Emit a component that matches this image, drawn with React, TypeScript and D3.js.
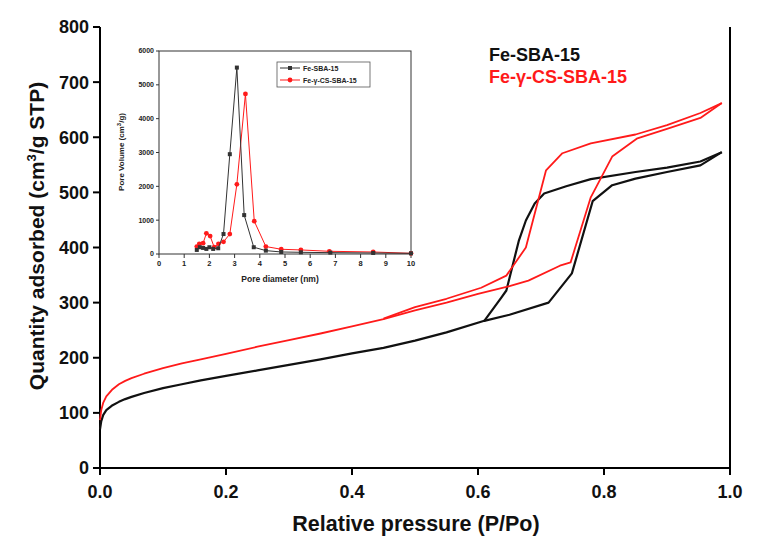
import React from "react";
import * as d3 from "d3";

// Main isotherms: [P/Po, quantity adsorbed]
const blackAdsP = [0, 0.002, 0.005, 0.01, 0.02, 0.03, 0.04, 0.05, 0.07, 0.1, 0.13, 0.16, 0.2, 0.25, 0.3, 0.35, 0.4, 0.45, 0.5, 0.55, 0.61, 0.65, 0.712, 0.749, 0.782, 0.813, 0.85, 0.9, 0.953, 0.987];
const blackAdsV = [70, 85, 96, 105, 114, 120, 125, 129, 136, 145, 152, 159, 167, 177, 187, 197, 208, 218, 231, 246, 267, 278, 300, 353, 484, 513, 525, 537, 549, 573];
const blackDesP = [0.987, 0.953, 0.9, 0.85, 0.779, 0.74, 0.705, 0.69, 0.676, 0.665, 0.645, 0.637, 0.61];
const blackDesV = [573, 556, 545, 537, 524, 511, 498, 480, 449, 413, 322, 309, 267];

const redAdsP = [0, 0.002, 0.005, 0.01, 0.02, 0.03, 0.04, 0.05, 0.07, 0.1, 0.13, 0.16, 0.2, 0.25, 0.3, 0.35, 0.4, 0.45, 0.5, 0.55, 0.6, 0.65, 0.68, 0.73, 0.747, 0.779, 0.813, 0.853, 0.9, 0.953, 0.987];
const redAdsV = [87, 105, 118, 130, 143, 152, 158, 163, 171, 181, 190, 197, 207, 220, 232, 244, 257, 270, 286, 300, 316, 330, 340, 367, 373, 491, 565, 598, 615, 635, 662];
const redDesP = [0.987, 0.953, 0.9, 0.85, 0.779, 0.734, 0.708, 0.676, 0.645, 0.605, 0.55, 0.5, 0.45];
const redDesV = [662, 644, 622, 605, 589, 571, 540, 400, 349, 327, 307, 292, 271];

const xTicks = [0, 0.2, 0.4, 0.6, 0.8, 1.0];
const yTicks = [0, 100, 200, 300, 400, 500, 600, 700, 800];

// Inset pore-size distribution
const insetBlackX = [1.5, 1.62, 1.75, 1.88, 2.0, 2.15, 2.35, 2.56, 2.81, 3.09, 3.38, 3.76, 4.24, 4.85, 5.63, 6.8, 8.5, 10];
const insetBlackY = [120, 200, 180, 150, 200, 150, 170, 590, 2950, 5510, 1150, 200, 100, 60, 50, 40, 30, 20];
const insetRedX = [1.5, 1.6, 1.75, 1.88, 2.03, 2.19, 2.36, 2.56, 2.81, 3.09, 3.43, 3.78, 4.24, 4.85, 5.63, 6.76, 8.5, 10];
const insetRedY = [220, 300, 320, 610, 530, 200, 300, 360, 590, 2060, 4730, 970, 220, 140, 120, 80, 60, 20];
const insetXTicks = [0, 1, 2, 3, 4, 5, 6, 7, 8, 9, 10];
const insetYTicks = [0, 1000, 2000, 3000, 4000, 5000, 6000];

const seriesNames = ["Fe-SBA-15", "Fe-γ-CS-SBA-15"];
const RED = "#ff1a1a";
const FONT = "'Liberation Sans', Arial, sans-serif";

export default function App() {
  const x = d3.scaleLinear().domain([0, 1]).range([100, 730]);
  const y = d3.scaleLinear().domain([0, 800]).range([468, 27]);
  const line = d3
    .line<[number, number]>()
    .x((d) => x(d[0]))
    .y((d) => y(d[1]));
  const zip = (a: number[], b: number[]) => a.map((v, i) => [v, b[i]] as [number, number]);

  const ix = d3.scaleLinear().domain([0, 10]).range([159, 411]);
  const iy = d3.scaleLinear().domain([0, 6000]).range([254, 51]);
  const iline = d3
    .line<[number, number]>()
    .x((d) => ix(d[0]))
    .y((d) => iy(d[1]));
  const bIn = zip(insetBlackX, insetBlackY);
  const rIn = zip(insetRedX, insetRedY);

  return (
    <svg width={761} height={539} style={{ position: "absolute", left: 0, top: 0, background: "#fff" }} fontFamily={FONT}>
      <rect x={0} y={0} width={761} height={539} fill="#fff" />
      {/* main axes */}
      <line x1={100} x2={100} y1={27} y2={468} stroke="#000" strokeWidth={2} />
      <line x1={100} x2={730} y1={468} y2={468} stroke="#000" strokeWidth={2} />
      <line x1={730} x2={730} y1={27} y2={468} stroke="#000" strokeWidth={2} />
      {yTicks.map((t) => (
        <g key={"y" + t}>
          <line x1={93} x2={100} y1={y(t)} y2={y(t)} stroke="#000" strokeWidth={2} />
          <text x={89} y={y(t)} dy="0.36em" textAnchor="end" fontSize={18} fontWeight="bold" fill="#111">
            {t}
          </text>
        </g>
      ))}
      {xTicks.map((t) => (
        <g key={"x" + t}>
          <line x1={x(t)} x2={x(t)} y1={468} y2={475} stroke="#000" strokeWidth={2} />
          <text x={x(t)} y={498} textAnchor="middle" fontSize={18} fontWeight="bold" fill="#111">
            {t.toFixed(1)}
          </text>
        </g>
      ))}
      <text x={416} y={531} textAnchor="middle" fontSize={21.5} fontWeight="bold" fill="#111">
        Relative pressure (P/Po)
      </text>
      <text transform="translate(44,236) rotate(-90)" textAnchor="middle" fontSize={21} fontWeight="bold" fill="#111">
        Quantity adsorbed (cm<tspan dy={-8} fontSize={13}>3</tspan>
        <tspan dy={8}>/g STP)</tspan>
      </text>

      {/* isotherms */}
      <path d={line(zip(blackAdsP, blackAdsV)) || ""} fill="none" stroke="#111" strokeWidth={2.2} strokeLinejoin="round" />
      <path d={line(zip(blackDesP, blackDesV)) || ""} fill="none" stroke="#111" strokeWidth={2.2} strokeLinejoin="round" />
      <path d={line(zip(redAdsP, redAdsV)) || ""} fill="none" stroke={RED} strokeWidth={1.8} strokeLinejoin="round" />
      <path d={line(zip(redDesP, redDesV)) || ""} fill="none" stroke={RED} strokeWidth={1.8} strokeLinejoin="round" />

      {/* main legend */}
      <text x={489} y={61} fontSize={18} fontWeight="bold" fill="#111">
        {seriesNames[0]}
      </text>
      <text x={489} y={83} fontSize={18} fontWeight="bold" fill={RED}>
        {seriesNames[1]}
      </text>

      {/* inset */}
      <rect x={159} y={51} width={252} height={203} fill="#fff" stroke="#333" strokeWidth={1} />
      {insetYTicks.map((t) => (
        <g key={"iy" + t}>
          <line x1={156} x2={159} y1={iy(t)} y2={iy(t)} stroke="#333" strokeWidth={1} />
          <text x={154} y={iy(t)} dy="0.35em" textAnchor="end" fontSize={7} fontWeight="bold" fill="#222">
            {t}
          </text>
        </g>
      ))}
      {insetXTicks.map((t) => (
        <g key={"ix" + t}>
          <line x1={ix(t)} x2={ix(t)} y1={254} y2={258} stroke="#333" strokeWidth={1} />
          <text x={ix(t)} y={266} textAnchor="middle" fontSize={7.5} fontWeight="bold" fill="#222">
            {t}
          </text>
        </g>
      ))}
      <text x={280} y={282} textAnchor="middle" fontSize={8.5} fontWeight="bold" fill="#222">
        Pore diameter (nm)
      </text>
      <text transform="translate(124,152) rotate(-90)" textAnchor="middle" fontSize={8} fontWeight="bold" fill="#222">
        Pore Volume (cm<tspan dy={-3} fontSize={6}>3</tspan>
        <tspan dy={3}>/g)</tspan>
      </text>
      <path d={iline(rIn) || ""} fill="none" stroke={RED} strokeWidth={1} />
      {rIn.map((d, i) => (
        <circle key={"rc" + i} cx={ix(d[0])} cy={iy(d[1])} r={2.4} fill={RED} />
      ))}
      <path d={iline(bIn) || ""} fill="none" stroke="#333" strokeWidth={1} />
      {bIn.map((d, i) => (
        <rect key={"bs" + i} x={ix(d[0]) - 2} y={iy(d[1]) - 2} width={4} height={4} fill="#333" />
      ))}
      {/* inset legend */}
      <rect x={277} y={62} width={93} height={25} fill="#fff" stroke="#555" strokeWidth={0.8} />
      <line x1={280} x2={300} y1={68} y2={68} stroke="#333" strokeWidth={1} />
      <rect x={288} y={66} width={4} height={4} fill="#333" />
      <text x={303} y={70.5} fontSize={7} fontWeight="bold" fill="#222">
        {seriesNames[0]}
      </text>
      <line x1={280} x2={300} y1={80} y2={80} stroke={RED} strokeWidth={1} />
      <circle cx={290} cy={80} r={2.4} fill={RED} />
      <text x={303} y={82.5} fontSize={7} fontWeight="bold" fill="#222">
        {seriesNames[1]}
      </text>
    </svg>
  );
}
